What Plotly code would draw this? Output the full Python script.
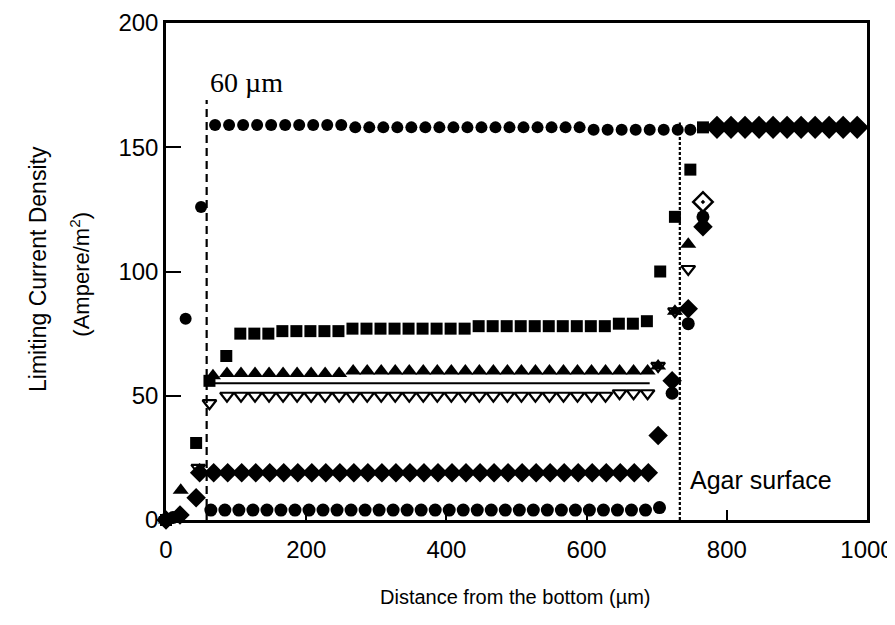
import plotly.graph_objects as go

# ---------------- data ----------------
# top filled circles (reach bulk value early)
circ_top_x = [0, 28, 50, 70, 90, 110, 130, 150, 170, 190, 210, 230, 250, 270, 290, 310, 330,
              350, 370, 390, 410, 430, 450, 470, 490, 510, 530, 550, 570, 590, 610, 630,
              650, 670, 690, 710, 730, 748]
circ_top_y = [0, 81, 126, 159, 159, 159, 159, 159, 159, 159, 159, 159, 159, 158, 158, 158, 158,
              158, 158, 158, 158, 158, 158, 158, 158, 158, 158, 158, 158, 158, 157, 157,
              157, 157, 157, 157, 157, 157]

# filled squares
sq_x = [0, 43, 62, 86, 106, 126, 146, 166, 186, 206, 226, 246, 266, 286, 306, 326, 346, 366,
        386, 406, 426, 446, 466, 486, 506, 526, 546, 566, 586, 606, 626, 646, 666, 686,
        705, 726, 748, 766]
sq_y = [0, 31, 56, 66, 75, 75, 75, 76, 76, 76, 76, 76, 77, 77, 77, 77, 77, 77,
        77, 77, 77, 78, 78, 78, 78, 78, 78, 78, 78, 78, 78, 79, 79, 80,
        100, 122, 141, 158]

# filled up-triangles
tri_x = [0, 21, 67, 87, 107, 127, 147, 167, 187, 207, 227, 247, 267, 287, 307, 327, 347, 367,
         387, 407, 427, 447, 467, 487, 507, 527, 547, 567, 587, 607, 627, 647, 667, 687,
         702, 726, 745]
tri_y = [0, 12, 58, 59, 59, 59, 59, 59, 59, 59, 59, 59, 60, 60, 60, 60, 60, 60,
         60, 60, 60, 60, 60, 60, 60, 60, 60, 60, 60, 60, 60, 60, 60, 60,
         62, 84, 111]

# open down-triangles
itri_x = [0, 46, 62, 87, 107, 127, 147, 167, 187, 207, 227, 247, 267, 287, 307, 327, 347, 367,
          387, 407, 427, 447, 467, 487, 507, 527, 547, 567, 587, 607, 627, 647, 667, 687,
          702, 726, 745]
itri_y = [0, 21, 47, 50, 50, 50, 50, 50, 50, 50, 50, 50, 50, 50, 50, 50, 50, 50,
          50, 50, 50, 50, 50, 50, 50, 50, 50, 50, 50, 50, 50, 51, 51, 51,
          62, 84, 101]

# filled diamonds
dia_x = [0, 20, 43, 48, 68, 88, 108, 128, 148, 168, 188, 208, 228, 248, 268, 288, 308, 328,
         348, 368, 388, 408, 428, 448, 468, 488, 508, 528, 548, 568, 588, 608, 628, 648,
         668, 688, 702, 722, 745, 766, 786, 806, 826, 846, 866, 886, 906, 926, 946, 966,
         986, 1006]
dia_y = [0, 2, 9, 19, 19, 19, 19, 19, 19, 19, 19, 19, 19, 19, 19, 19, 19, 19,
         19, 19, 19, 19, 19, 19, 19, 19, 19, 19, 19, 19, 19, 19, 19, 19,
         19, 19, 34, 56, 85, 118, 158, 158, 158, 158, 158, 158, 158, 158, 158, 158,
         158, 158]

# bottom filled circles
circ_bot_x = [0, 10, 64, 84, 104, 124, 144, 164, 184, 204, 224, 244, 264, 284, 304, 324, 344,
              364, 384, 404, 424, 444, 464, 484, 504, 524, 544, 564, 584, 604, 624, 644,
              664, 684, 704, 722, 745, 766]
circ_bot_y = [0, 1, 4, 4, 4, 4, 4, 4, 4, 4, 4, 4, 4, 4, 4, 4, 4,
              4, 4, 4, 4, 4, 4, 4, 4, 4, 4, 4, 4, 4, 4, 4,
              4, 4, 5, 51, 79, 122]

# open diamonds with centre dot
odia_x = [766, 786, 806, 826, 846, 866, 886, 906, 926, 946, 966, 986, 1006]
odia_y = [128, 158, 158, 158, 158, 158, 158, 158, 158, 158, 158, 158, 158]

# solid reference line
ref_x = [62, 690]
ref_y = [55, 55]

# marker lines
line60_x = [58, 58]
line60_y = [0, 169]
agar_x = [733, 733]
agar_y = [0, 160]

x_ticks = [0, 200, 400, 600, 800, 1000]
y_ticks = [0, 50, 100, 150, 200]

# ---------------- figure ----------------
fig = go.Figure()

fig.add_trace(go.Scatter(x=line60_x, y=line60_y, mode="lines",
                         line=dict(color="black", width=2.2, dash="8px,5px")))
fig.add_trace(go.Scatter(x=agar_x, y=agar_y, mode="lines",
                         line=dict(color="black", width=2.2, dash="3px,2px")))
fig.add_trace(go.Scatter(x=ref_x, y=ref_y, mode="lines",
                         line=dict(color="black", width=2)))


def pts(x, y, symbol, size, lw=0):
    fig.add_trace(go.Scatter(
        x=x, y=y, mode="markers", cliponaxis=False,
        marker=dict(symbol=symbol, size=size, color="black",
                    line=dict(color="black", width=lw))))


pts(circ_top_x, circ_top_y, "circle", 12)
pts(sq_x, sq_y, "square", 12)
pts(tri_x, tri_y, "triangle-up", 14)
pts(itri_x, itri_y, "triangle-down-open", 12, 2.2)
pts(dia_x, dia_y, "diamond", 15)
pts(circ_bot_x, circ_bot_y, "circle", 13)
pts(odia_x, odia_y, "diamond-open-dot", 15, 2.5)

fig.add_annotation(x=60, y=176, text="60 \u00b5m", showarrow=False, xanchor="left",
                   yanchor="middle",
                   font=dict(family="Liberation Serif", size=28, color="black"))
fig.add_annotation(x=745, y=16, text="Agar surface", showarrow=False, xanchor="left",
                   yanchor="middle",
                   font=dict(family="Liberation Sans", size=25, color="black"))

fig.add_annotation(x=-0.204, y=0.505, xref="paper", yref="paper",
                   text="Limiting Current Density", textangle=-90, showarrow=False,
                   font=dict(family="Liberation Sans", size=23, color="black"))
fig.add_annotation(x=-0.146, y=0.495, xref="paper", yref="paper",
                   text="(Ampere/m<sup>2</sup>)", textangle=-90, showarrow=False,
                   font=dict(family="Liberation Sans", size=22, color="black"))
fig.add_annotation(x=0.498, y=-0.155, xref="paper", yref="paper", yanchor="middle",
                   text="Distance from the bottom (\u00b5m)", showarrow=False,
                   font=dict(family="Liberation Sans", size=20, color="black"))

axis_common = dict(showgrid=False, zeroline=False, showline=True, linecolor="black",
                   linewidth=2.5, mirror=True, ticks="inside", tickcolor="black",
                   tickwidth=2, automargin=False, ticklabeloverflow="allow",
                   tickfont=dict(family="Liberation Sans", size=24, color="black"))

# the page body adds an 8 px margin at the top/left; keep the page within the window
fig.update_layout(
    width=887, height=609,
    margin=dict(l=158, r=28, t=15, b=97),
    paper_bgcolor="white", plot_bgcolor="white",
    showlegend=False,
    xaxis=dict(range=[0, 1000], tickvals=x_ticks, ticklen=10, ticklabelstandoff=6,
               **axis_common),
    yaxis=dict(range=[0, 200], tickvals=y_ticks, ticklen=15, **axis_common),
)

fig.write_html("out.html")
